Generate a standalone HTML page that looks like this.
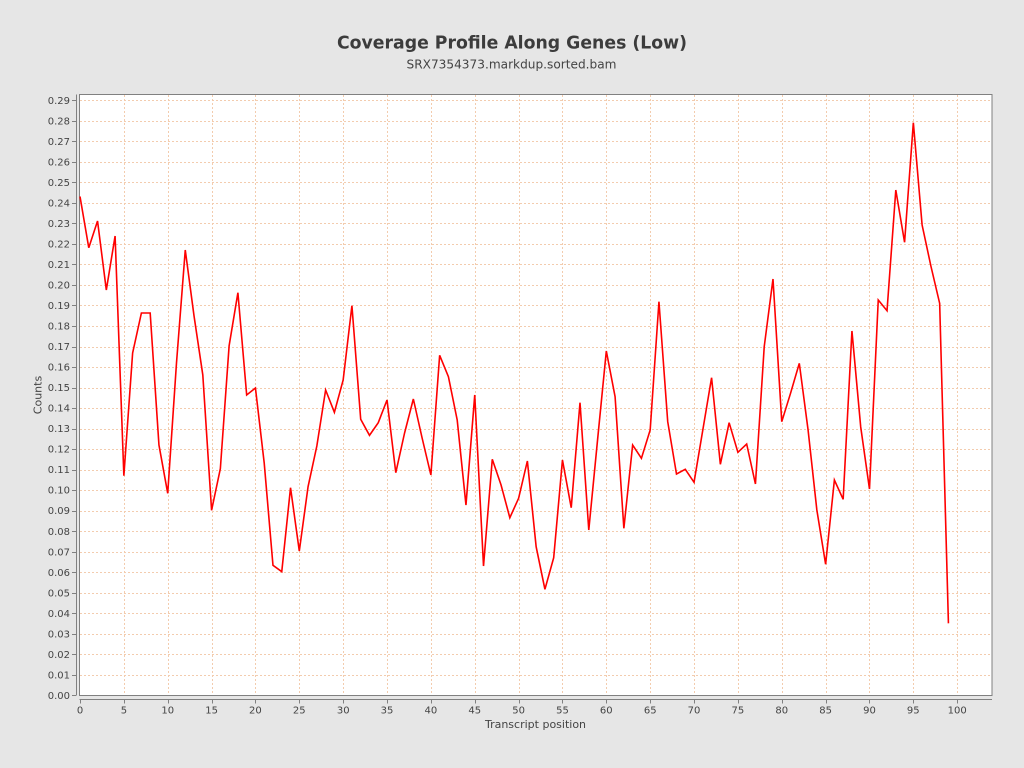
<!DOCTYPE html>
<html><head><meta charset="utf-8"><style>
html,body{margin:0;padding:0;background:#e6e6e6;}
svg{display:block;}
text{font-family:"DejaVu Sans","Liberation Sans",sans-serif;fill:#444;}
</style></head><body>
<svg width="1024" height="768" viewBox="0 0 1024 768" xmlns="http://www.w3.org/2000/svg">
<rect x="0" y="0" width="1024" height="768" fill="#e6e6e6"/>
<text x="512" y="48.5" text-anchor="middle" font-size="17.5" font-weight="bold" fill="#3c3c3c" style="fill:#3c3c3c" textLength="350" lengthAdjust="spacingAndGlyphs">Coverage Profile Along Genes (Low)</text>
<text x="511.5" y="68.5" text-anchor="middle" font-size="12" textLength="210" lengthAdjust="spacingAndGlyphs">SRX7354373.markdup.sorted.bam</text>
<rect x="79.5" y="94.5" width="912.5" height="601" fill="#ffffff" stroke="#808080" stroke-width="1"/>
<g stroke="#f3ccae" stroke-width="1" stroke-dasharray="2,2" fill="none" id="grid"></g>
<g stroke="#808080" stroke-width="1" fill="none" id="axes">
<line x1="76.5" y1="94.5" x2="76.5" y2="695.5"/>
<line x1="79.5" y1="699.5" x2="992" y2="699.5"/>
</g>
<g id="ylabels" font-size="10" text-anchor="end"></g>
<g id="xlabels" font-size="10" text-anchor="middle"></g>
<text x="535.5" y="728" text-anchor="middle" font-size="11">Transcript position</text>
<text transform="translate(41.5,395) rotate(-90)" text-anchor="middle" font-size="11">Counts</text>
<polyline id="series" fill="none" stroke="#ff0000" stroke-width="1.6" stroke-linejoin="miter" points=""/>
</svg>
<script>
(function(){
var ns="http://www.w3.org/2000/svg";
var grid=document.getElementById('grid'),axes=document.getElementById('axes');
var yl=document.getElementById('ylabels'),xl=document.getElementById('xlabels');
function el(n,a,p){var e=document.createElementNS(ns,n);for(var k in a)e.setAttribute(k,a[k]);p.appendChild(e);return e;}
for(var k=0;k<=29;k++){
 var y=695.3-k*20.517; var yr=Math.round(y)+0.5;
 if(k>0) el('line',{x1:80,y1:yr,x2:992,y2:yr},grid);
 el('line',{x1:72,y1:yr,x2:76,y2:yr},axes);
 var t=el('text',{x:70,y:(y+3.6).toFixed(1)},yl); t.textContent=(k/100).toFixed(2);
}
for(var k=0;k<=20;k++){
 var x=80+k*43.86; var xr=Math.round(x)+0.5;
 if(k>0) el('line',{x1:xr,y1:95,x2:xr,y2:695},grid);
 el('line',{x1:xr,y1:699.5,x2:xr,y2:703.5},axes);
 var t=el('text',{x:x.toFixed(1),y:713.5},xl); t.textContent=String(k*5);
}
var ys=[196.5,247.7,221,290,236,475.7,353,313,313,445,493.3,363,250,316,375,510.3,468.7,345.7,292.7,395,388,463,565.3,571.7,487.7,551,486.7,446,390,412.3,380,305.7,419.3,435.3,422.7,400,472.7,433,399,438,475,355.3,376.7,420,505,395,566,459.3,485,517.7,498.3,461,546.7,589.3,557.7,460,507.7,402.7,530,440,351,396.7,528.3,445,458.3,430,301.7,421.7,474,469.3,482.3,430,377.7,464.3,422.7,452.3,444,484,346.7,279,421.7,393.3,363.3,430,510,564.3,480,499.3,331,427,489,300,310.7,190,242.3,122.7,225,266,303.3,623.3];
var pts=[];for(var i=0;i<ys.length;i++){pts.push((80+8.772*i).toFixed(2)+','+ys[i]);}
document.getElementById('series').setAttribute('points',pts.join(' '));
})();
</script>
</body></html>
